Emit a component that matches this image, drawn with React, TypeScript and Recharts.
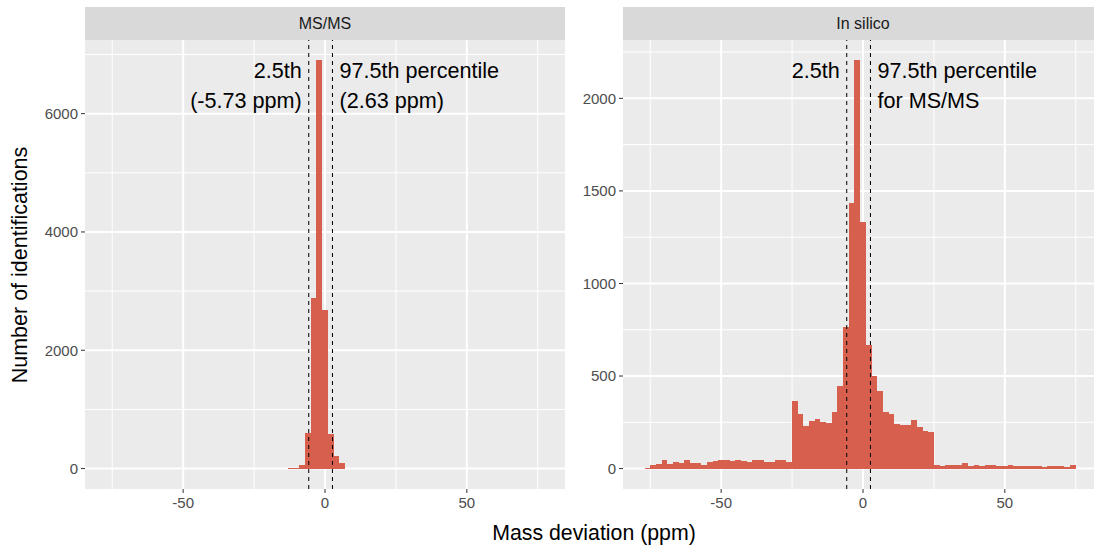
import { BarChart, Bar, XAxis, YAxis, CartesianGrid, ReferenceLine } from 'recharts'

// bin centres (binwidth 2 ppm) and counts
const msmsMid = [-12, -10, -8, -6, -4, -2, 0, 2, 4, 6]
const msmsCount = [5, 10, 60, 608, 2890, 6900, 2675, 591, 213, 90]

const insilicoMid = [
    -76, -74, -72, -70, -68, -66, -64, -62, -60, -58, -56, -54, -52, -50, -48, -46, -44, -42, -40,
    -38, -36, -34, -32, -30, -28, -26, -24, -22, -20, -18, -16, -14, -12, -10, -8, -6, -4, -2, 0,
    2, 4, 6, 8, 10, 12, 14, 16, 18, 20, 22, 24, 26, 28, 30, 32, 34, 36, 38, 40, 42, 44, 46, 48, 50,
    52, 54, 56, 58, 60, 62, 64, 66, 68, 70, 72, 74,
]
const insilicoCount = [
    2, 18, 23, 45, 27, 38, 31, 45, 31, 31, 22, 34, 41, 49, 45, 41, 49, 43, 34,
    45, 49, 38, 34, 49, 45, 38, 365, 293, 230, 257, 266, 252, 248, 306, 446, 767, 1433, 2205, 1332,
    668, 500, 417, 306, 296, 242, 237, 237, 264, 226, 202, 196, 18, 16, 22, 22, 22, 31, 13, 18, 13,
    22, 18, 14, 13, 18, 14, 13, 15, 16, 16, 8, 15, 12, 14, 8, 20,
]

const xTicks = [-50, 0, 50]
const xMinor = [-75, -25, 25, 75]
const msmsTicks = [0, 2000, 4000, 6000]
const msmsMinor = [1000, 3000, 5000, 7000]
const insilicoTicks = [0, 500, 1000, 1500, 2000]
const insilicoMinor = [250, 750, 1250, 1750, 2250]

const pLow = -5.73
const pHigh = 2.63
const msmsLowLabel = ['2.5th', '(-5.73 ppm)']
const msmsHighLabel = ['97.5th percentile', '(2.63 ppm)']
const insilicoLowLabel = ['2.5th']
const insilicoHighLabel = ['97.5th percentile', 'for MS/MS']

const binWidth = 2
const X_DOMAIN: [number, number] = [-84.6, 84.6]
const PANEL_W = 480
const PANEL_H = 449
const PANEL_TOP = 40
const X_AXIS_H = 31
const FONT = '"Liberation Sans", Arial, Helvetica, sans-serif'
const BAR_COLOR = '#d6604d'

function makeLabel(lines: string[], side: 'left' | 'right') {
    return (props: any) => {
        const vb = props.viewBox || {}
        const x = vb.x + (side === 'left' ? -7 : 7)
        return (
            <text
                textAnchor={side === 'left' ? 'end' : 'start'}
                fontSize={21.6}
                fontFamily={FONT}
                fill="#000"
            >
                {lines.map((l, i) => (
                    <tspan key={i} x={x} y={vb.y + 38 + i * 29.5}>
                        {l}
                    </tspan>
                ))}
            </text>
        )
    }
}

interface PanelProps {
    title: string
    mids: number[]
    counts: number[]
    yTicks: number[]
    yMinor: number[]
    lowLabel: string[]
    highLabel: string[]
    left: number
    yAxisWidth: number
}

function Panel({ title, mids, counts, yTicks, yMinor, lowLabel, highLabel, left, yAxisWidth }: PanelProps) {
    const data = mids.map((m, i) => ({ mid: m, count: counts[i] }))
    const max = Math.max(...counts)
    const yDomain: [number, number] = [-0.05 * max, 1.05 * max]
    const barSize = (PANEL_W / (X_DOMAIN[1] - X_DOMAIN[0])) * binWidth - 0.01

    return (
        <>
            <div
                style={{
                    position: 'absolute',
                    left: left + yAxisWidth,
                    top: 7,
                    width: PANEL_W,
                    height: PANEL_TOP - 7,
                    background: '#d9d9d9',
                    color: '#1a1a1a',
                    fontFamily: FONT,
                    fontSize: 16,
                    display: 'flex',
                    alignItems: 'center',
                    justifyContent: 'center',
                }}
            >
                {title}
            </div>
            <div style={{ position: 'absolute', left, top: PANEL_TOP }}>
                <BarChart
                    width={yAxisWidth + PANEL_W}
                    height={PANEL_H + X_AXIS_H}
                    data={data}
                    margin={{ top: 0, right: 0, bottom: 0, left: 0 }}
                    barCategoryGap={0}
                    barGap={0}
                >
                    <CartesianGrid
                        verticalValues={xMinor}
                        horizontalValues={yMinor}
                        stroke="#ffffff"
                        strokeWidth={1}
                        fill="#ebebeb"
                        fillOpacity={1}
                    />
                    <CartesianGrid
                        verticalValues={xTicks}
                        horizontalValues={yTicks}
                        stroke="#ffffff"
                        strokeWidth={2}
                    />
                    <XAxis
                        dataKey="mid"
                        type="number"
                        domain={X_DOMAIN}
                        ticks={xTicks}
                        allowDataOverflow
                        interval={0}
                        height={X_AXIS_H}
                        tickSize={4}
                        tickMargin={4}
                        axisLine={false}
                        tickLine={{ stroke: '#333333' }}
                        tick={{ fill: '#4d4d4d', fontSize: 15, fontFamily: FONT }}
                    />
                    <YAxis
                        type="number"
                        domain={yDomain}
                        ticks={yTicks}
                        allowDataOverflow
                        interval={0}
                        width={yAxisWidth}
                        tickSize={4}
                        tickMargin={3}
                        axisLine={false}
                        tickLine={{ stroke: '#333333' }}
                        tick={{ fill: '#4d4d4d', fontSize: 15, fontFamily: FONT }}
                    />
                    <Bar
                        dataKey="count"
                        fill={BAR_COLOR}
                        shapeRendering="crispEdges"
                        barSize={barSize}
                        isAnimationActive={false}
                    />
                    <ReferenceLine
                        x={pLow}
                        stroke="#000"
                        strokeWidth={1}
                        strokeDasharray="4 4"
                        label={makeLabel(lowLabel, 'left')}
                    />
                    <ReferenceLine
                        x={pHigh}
                        stroke="#000"
                        strokeWidth={1}
                        strokeDasharray="4 4"
                        label={makeLabel(highLabel, 'right')}
                    />
                </BarChart>
            </div>
        </>
    )
}

export default function App() {
    return (
        <div
            style={{
                position: 'absolute',
                left: 0,
                top: 0,
                width: 1094,
                height: 545,
                overflow: 'hidden',
                background: '#fff',
            }}
        >
            <Panel
                title="MS/MS"
                mids={msmsMid}
                counts={msmsCount}
                yTicks={msmsTicks}
                yMinor={msmsMinor}
                lowLabel={msmsLowLabel}
                highLabel={msmsHighLabel}
                left={0}
                yAxisWidth={85}
            />
            <Panel
                title="In silico"
                mids={insilicoMid}
                counts={insilicoCount}
                yTicks={insilicoTicks}
                yMinor={insilicoMinor}
                lowLabel={insilicoLowLabel}
                highLabel={insilicoHighLabel}
                left={573}
                yAxisWidth={50}
            />
            <div
                style={{
                    position: 'absolute',
                    left: 20,
                    top: 265,
                    transform: 'translate(-50%, -50%) rotate(-90deg)',
                    whiteSpace: 'nowrap',
                    fontFamily: FONT,
                    fontSize: 21.5,
                    color: '#000',
                }}
            >
                Number of identifications
            </div>
            <div
                style={{
                    position: 'absolute',
                    left: 594,
                    top: 533,
                    transform: 'translate(-50%, -50%)',
                    whiteSpace: 'nowrap',
                    fontFamily: FONT,
                    fontSize: 21.3,
                    color: '#000',
                }}
            >
                Mass deviation (ppm)
            </div>
        </div>
    )
}
